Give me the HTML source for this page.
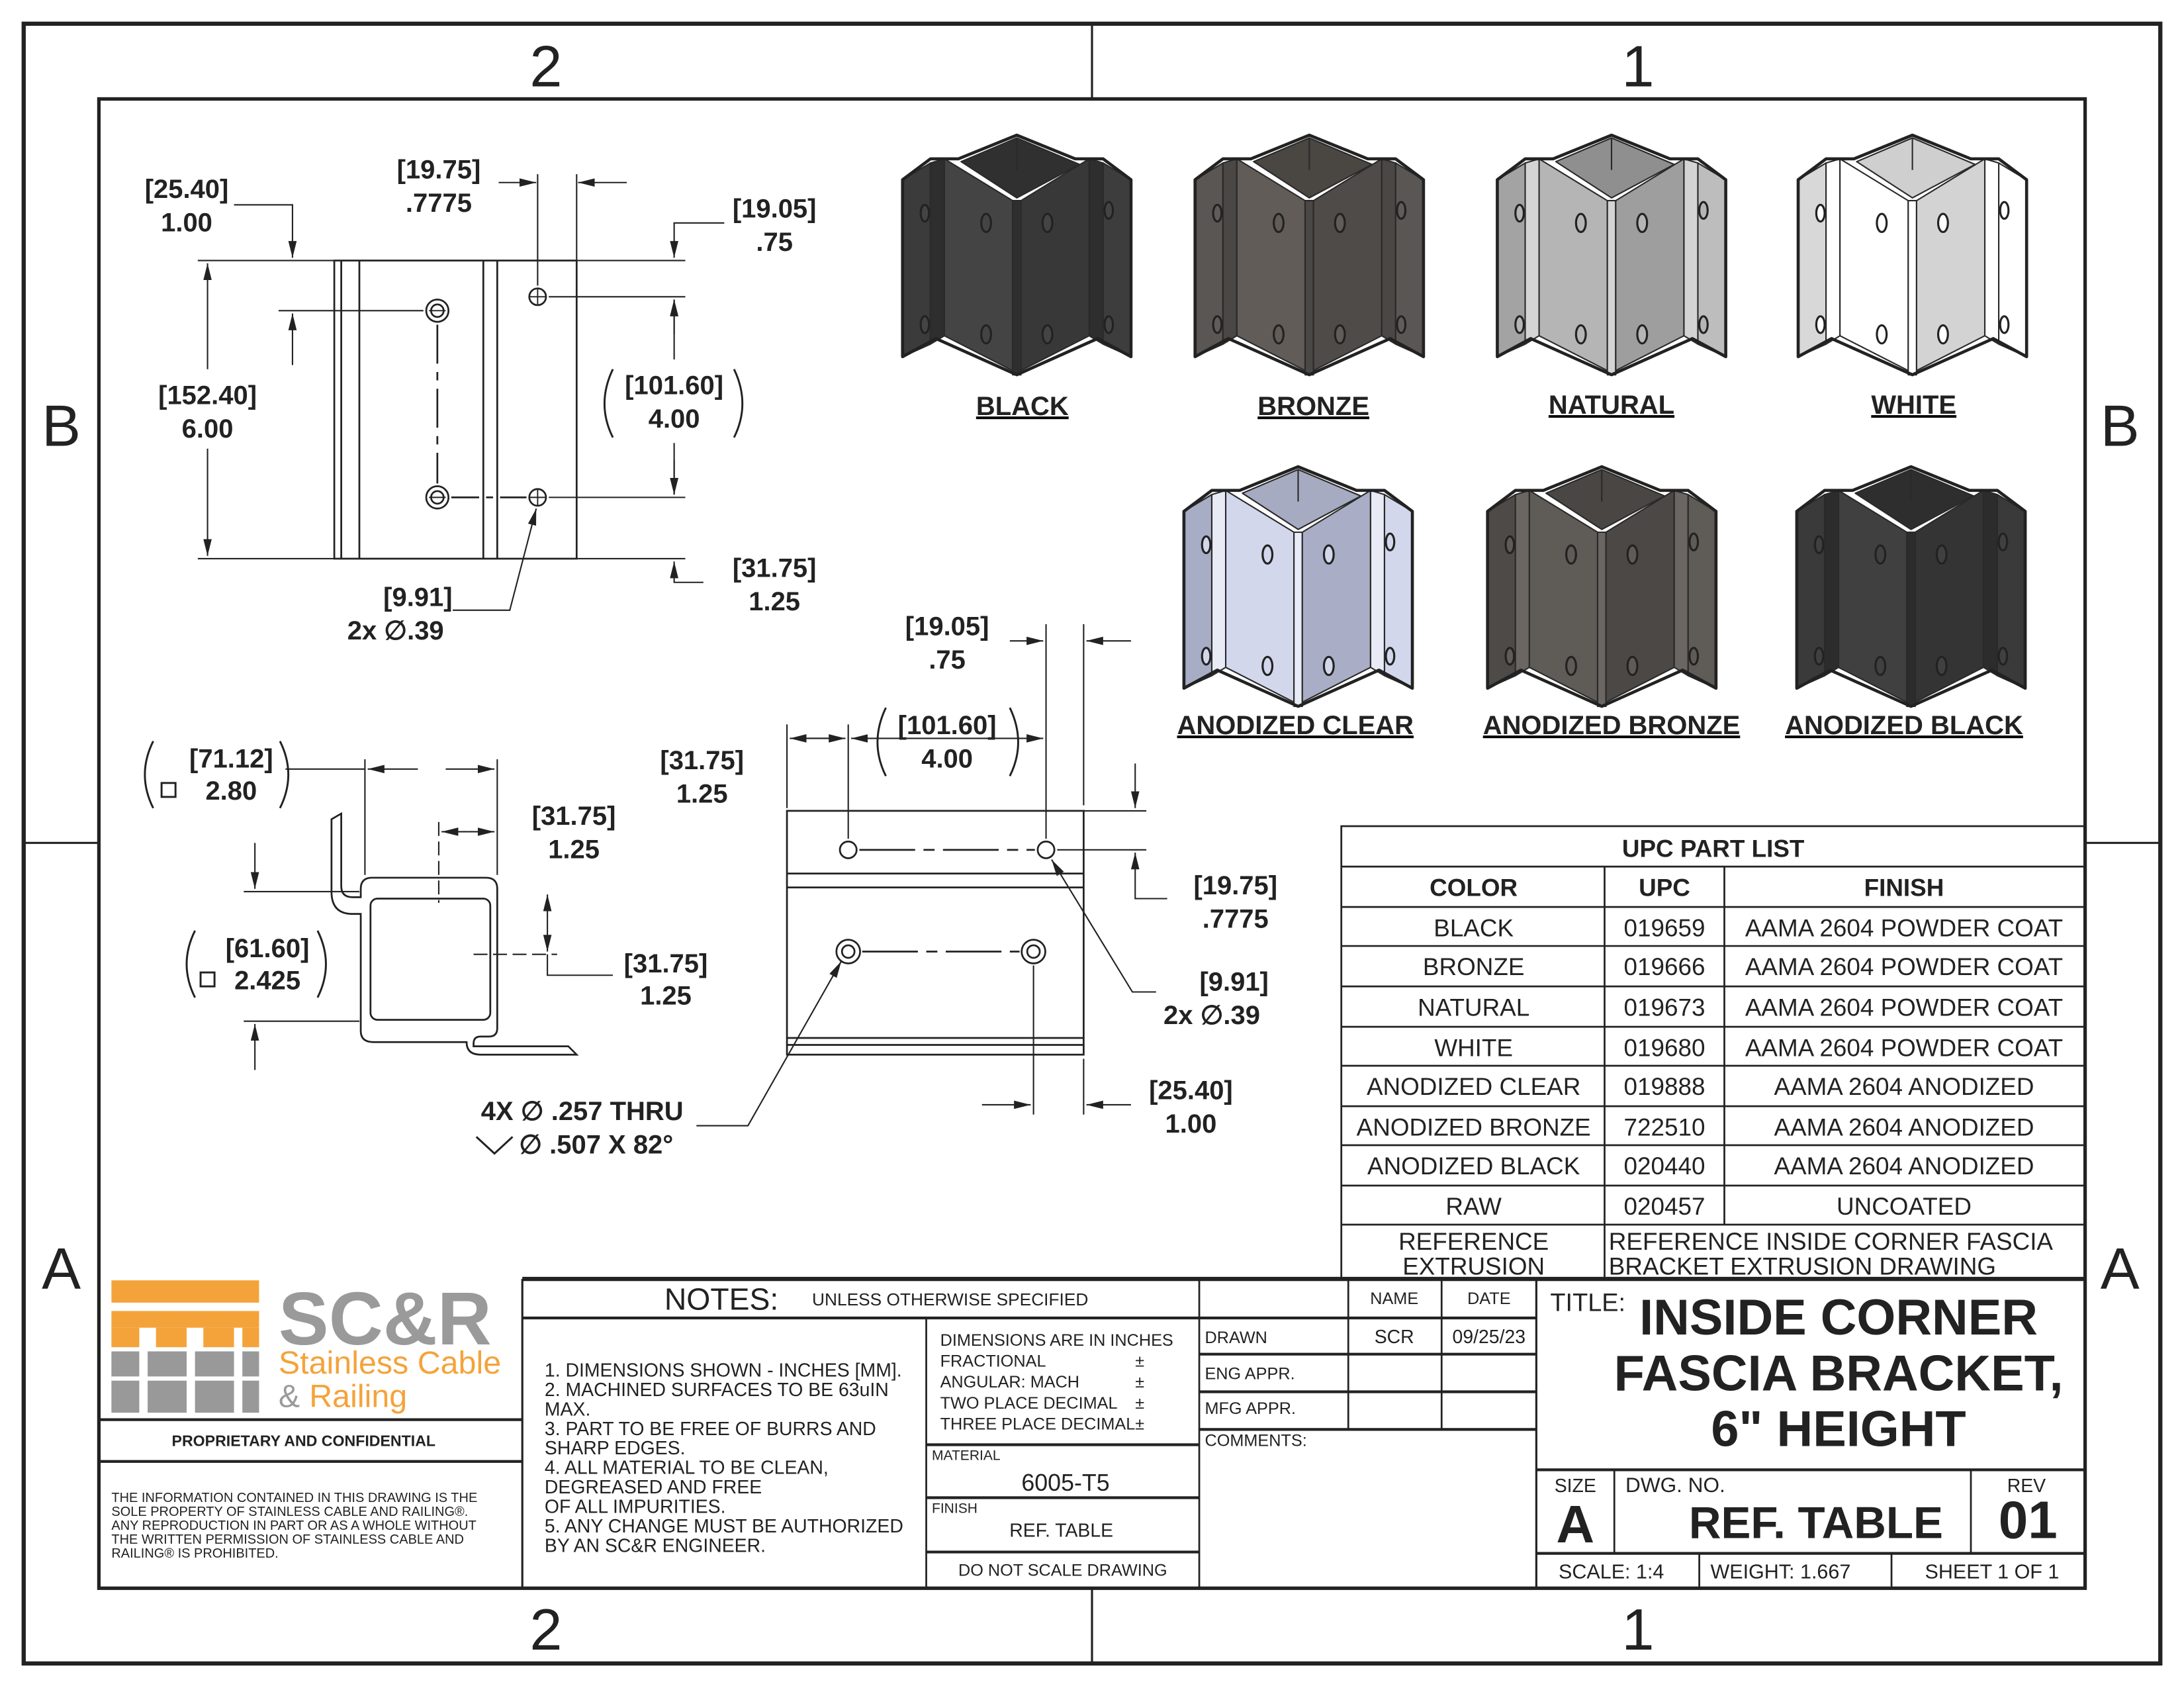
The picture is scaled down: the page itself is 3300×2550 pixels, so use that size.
<!DOCTYPE html>
<html><head><meta charset="utf-8"><style>
html,body{margin:0;padding:0;background:#fff}
svg{display:block}
text{font-family:"Liberation Sans",sans-serif;fill:#222}
</style></head><body>
<svg width="3300" height="2550" viewBox="0 0 1568 1211.6" xmlns="http://www.w3.org/2000/svg">
<defs>
<marker id="ar" viewBox="0 0 12 6" refX="12" refY="3" markerWidth="12" markerHeight="6" orient="auto" markerUnits="userSpaceOnUse"><path d="M0,0 L12,3 L0,6 Z" fill="#222"/></marker>
<g id="iso">
<g stroke="#2a2a2a" stroke-width="1" stroke-linejoin="round">
<polygon style="fill:var(--f1)" points="-82,29 -62,17 -62,147 -82,156"/>
<polygon style="fill:var(--s)" points="-62,17 -52,14 -52,141 -62,147"/>
<polygon style="fill:var(--f2)" points="-52,14 -3,44 -3,166 -52,141"/>
<polygon style="fill:var(--s)" points="-3,44 3,44 3,169 -3,169"/>
<polygon style="fill:var(--f3)" points="3,44 52,14 52,141 3,166"/>
<polygon style="fill:var(--s)" points="52,14 62,17 62,147 52,141"/>
<polygon style="fill:var(--f4)" points="62,17 82,29 82,156 62,147"/>
<polygon style="fill:var(--in)" points="-40,16 0,-1 45,18 0,42"/>
<line x1="0" y1="-1" x2="0" y2="22"/>
</g>
<g style="fill:var(--f2)" stroke="#222" stroke-width="1.5">
<ellipse cx="-66" cy="53" rx="3" ry="6"/><ellipse cx="-22" cy="60" rx="3.5" ry="6.5"/><ellipse cx="22" cy="60" rx="3.5" ry="6.5"/><ellipse cx="66" cy="51" rx="3" ry="6"/>
<ellipse cx="-66" cy="133" rx="3" ry="6"/><ellipse cx="-22" cy="140" rx="3.5" ry="6.5"/><ellipse cx="22" cy="140" rx="3.5" ry="6.5"/><ellipse cx="66" cy="133" rx="3" ry="6"/>
</g>
<path d="M-82,29 L-62,14 L-42,14 L0,-3 L42,14 L62,14 L82,29 L82,156 L58,143 L0,169 L-58,143 L-82,156 Z" fill="none" stroke="#222" stroke-width="2.2" stroke-linejoin="round"/>
</g>
</defs>

<!-- borders -->
<rect x="17" y="17" width="1534" height="1177" fill="none" stroke="#222" stroke-width="3"/>
<rect x="71" y="71" width="1426" height="1069" fill="none" stroke="#222" stroke-width="2.5"/>
<g stroke="#222" stroke-width="1.5">
<line x1="784" y1="17" x2="784" y2="71"/><line x1="784" y1="1140" x2="784" y2="1194"/>
<line x1="17" y1="605" x2="71" y2="605"/><line x1="1497" y1="605" x2="1551" y2="605"/>
</g>
<g font-size="42" text-anchor="middle">
<text x="392" y="62">2</text><text x="1176" y="62">1</text>
<text x="392" y="1184">2</text><text x="1176" y="1184">1</text>
<text x="44" y="320">B</text><text x="1522" y="320">B</text>
<text x="44" y="925">A</text><text x="1522" y="925">A</text>
</g>

<!-- iso views -->
<use href="#iso" x="730" y="100" style="--f1:#3b3b3b;--f2:#444444;--f3:#383838;--f4:#3d3d3d;--s:#2e2e2e;--in:#303030"/>
<use href="#iso" x="940" y="100" style="--f1:#5a5653;--f2:#615c58;--f3:#4f4b48;--f4:#5a5653;--s:#4a4744;--in:#4a4642"/>
<use href="#iso" x="1157" y="100" style="--f1:#a3a3a3;--f2:#b5b5b5;--f3:#9e9e9e;--f4:#bdbdbd;--s:#d4d4d4;--in:#8f8f8f"/>
<use href="#iso" x="1373" y="100" style="--f1:#d8d8d8;--f2:#ffffff;--f3:#d3d3d3;--f4:#ffffff;--s:#ffffff;--in:#cfcfcf"/>
<use href="#iso" x="932" y="338" style="--f1:#a8adc6;--f2:#d3d7ec;--f3:#a9aec6;--f4:#d3d7ec;--s:#e8eaf6;--in:#a6abc2"/>
<use href="#iso" x="1150" y="338" style="--f1:#4e4a47;--f2:#5f5b57;--f3:#4c4845;--f4:#5f5b57;--s:#6b6662;--in:#4a4643"/>
<use href="#iso" x="1372" y="338" style="--f1:#3a3a3a;--f2:#404040;--f3:#343434;--f4:#3a3a3a;--s:#2c2c2c;--in:#2e2e2e"/>
<g font-size="19" text-anchor="middle" text-decoration="underline" font-weight="bold">
<text x="734" y="298">BLACK</text><text x="943" y="298">BRONZE</text><text x="1157" y="297">NATURAL</text><text x="1374" y="297">WHITE</text>
<text x="930" y="527">ANODIZED CLEAR</text><text x="1157" y="527">ANODIZED BRONZE</text><text x="1367" y="527">ANODIZED BLACK</text>
</g>

<!-- drawings -->
<g stroke="#222" stroke-width="1.3" fill="none">
<rect x="240" y="187" width="174" height="214"/>
<line x1="245" y1="187" x2="245" y2="401"/><line x1="258" y1="187" x2="258" y2="401"/>
<line x1="347" y1="187" x2="347" y2="401"/><line x1="357" y1="187" x2="357" y2="401"/>
<circle cx="314" cy="223" r="8"/><circle cx="314" cy="223" r="4.5"/>
<circle cx="314" cy="357" r="8"/><circle cx="314" cy="357" r="4.5"/>
<circle cx="386" cy="213" r="6"/><circle cx="386" cy="357" r="6"/>
<g stroke-width="0.9"><line x1="380" y1="213" x2="392" y2="213"/><line x1="386" y1="207" x2="386" y2="219"/><line x1="380" y1="357" x2="392" y2="357"/><line x1="386" y1="351" x2="386" y2="363"/><line x1="308" y1="223" x2="320" y2="223"/><line x1="308" y1="357" x2="320" y2="357"/></g>
<line x1="314" y1="233" x2="314" y2="347" stroke-dasharray="28,6,6,6"/>
<line x1="324" y1="357" x2="378" y2="357" stroke-dasharray="20,5,5,5"/>
<g stroke-width="1">
<line x1="142" y1="187" x2="240" y2="187"/><line x1="142" y1="401" x2="240" y2="401"/>
<line x1="149" y1="265" x2="149" y2="189" marker-end="url(#ar)"/><line x1="149" y1="322" x2="149" y2="399" marker-end="url(#ar)"/>
<line x1="200" y1="223" x2="304" y2="223"/>
<polyline points="168,147 210,147 210,185" marker-end="url(#ar)"/><line x1="210" y1="262" x2="210" y2="225" marker-end="url(#ar)"/>
<line x1="386" y1="125" x2="386" y2="205"/><line x1="414" y1="125" x2="414" y2="187"/>
<line x1="358" y1="131" x2="385" y2="131" marker-end="url(#ar)"/><line x1="450" y1="131" x2="415" y2="131" marker-end="url(#ar)"/>
<line x1="414" y1="187" x2="492" y2="187"/><line x1="394" y1="213" x2="492" y2="213"/><line x1="394" y1="357" x2="492" y2="357"/><line x1="414" y1="401" x2="492" y2="401"/>
<polyline points="520,160 484,160 484,185" marker-end="url(#ar)"/><line x1="484" y1="240" x2="484" y2="215" marker-end="url(#ar)"/>
<line x1="484" y1="258" x2="484" y2="215" marker-end="url(#ar)"/><line x1="484" y1="318" x2="484" y2="355" marker-end="url(#ar)"/>
<line x1="484" y1="330" x2="484" y2="355" marker-end="url(#ar)"/><polyline points="505,418 484,418 484,403" marker-end="url(#ar)"/>
<polyline points="325,438 366,438 385,365" marker-end="url(#ar)"/>
</g>
<path d="M238,588 L245,584 L245,636 Q245,644 253,644 L259,644 L259,638 Q259,630 267,630 L349,630 Q357,630 357,638 L357,738 Q357,744 351,744 L345,744 Q340,744 340,749 L340,751 L408,751 L414,757 L345,757 Q335,757 335,748 L268,748 Q259,748 259,740 L259,656 L253,656 Q238,656 238,640 Z"/>
<rect x="266" y="645" width="86" height="87" rx="5"/>
<g stroke-width="1">
<line x1="262" y1="545" x2="262" y2="628"/><line x1="357" y1="545" x2="357" y2="628"/>
<line x1="205" y1="552" x2="262" y2="552"/><line x1="300" y1="552" x2="264" y2="552" marker-end="url(#ar)"/><line x1="320" y1="552" x2="355" y2="552" marker-end="url(#ar)"/>
<line x1="315" y1="590" x2="315" y2="648" stroke-dasharray="10,4"/>
<line x1="336" y1="597" x2="317" y2="597" marker-end="url(#ar)"/><line x1="336" y1="597" x2="355" y2="597" marker-end="url(#ar)"/>
<line x1="175" y1="640" x2="258" y2="640"/><line x1="175" y1="733" x2="258" y2="733"/>
<line x1="183" y1="605" x2="183" y2="638" marker-end="url(#ar)"/><line x1="183" y1="768" x2="183" y2="735" marker-end="url(#ar)"/>
<line x1="340" y1="685" x2="400" y2="685" stroke-dasharray="10,4"/>
<line x1="393" y1="660" x2="393" y2="642" marker-end="url(#ar)"/><line x1="393" y1="660" x2="393" y2="683" marker-end="url(#ar)"/>
<polyline points="393,685 393,700 440,700"/>
</g>
<rect x="565" y="582" width="213" height="175"/>
<line x1="565" y1="627" x2="778" y2="627"/><line x1="565" y1="637" x2="778" y2="637"/>
<line x1="565" y1="745" x2="778" y2="745"/><line x1="565" y1="750" x2="778" y2="750"/>
<circle cx="609" cy="610" r="6"/><circle cx="751" cy="610" r="6"/>
<circle cx="609" cy="683" r="8.5"/><circle cx="609" cy="683" r="4.5"/>
<circle cx="742" cy="683" r="8.5"/><circle cx="742" cy="683" r="4.5"/>
<line x1="617" y1="610" x2="743" y2="610" stroke-dasharray="40,6,8,6"/>
<line x1="619" y1="683" x2="732" y2="683" stroke-dasharray="40,6,8,6"/>
<g stroke-width="1">
<line x1="565" y1="520" x2="565" y2="580"/><line x1="609" y1="520" x2="609" y2="602"/><line x1="751" y1="448" x2="751" y2="602"/><line x1="778" y1="448" x2="778" y2="578"/>
<line x1="580" y1="530" x2="607" y2="530" marker-end="url(#ar)"/><line x1="598" y1="530" x2="567" y2="530" marker-end="url(#ar)"/>
<line x1="735" y1="530" x2="611" y2="530" marker-end="url(#ar)"/><line x1="735" y1="530" x2="749" y2="530" marker-end="url(#ar)"/>
<line x1="725" y1="460" x2="749" y2="460" marker-end="url(#ar)"/><line x1="812" y1="460" x2="780" y2="460" marker-end="url(#ar)"/>
<line x1="778" y1="582" x2="823" y2="582"/><line x1="759" y1="610" x2="823" y2="610"/>
<line x1="815" y1="548" x2="815" y2="580" marker-end="url(#ar)"/><polyline points="838,645 815,645 815,612" marker-end="url(#ar)"/>
<polyline points="830,712 813,712 755,617" marker-end="url(#ar)"/>
<line x1="742" y1="693" x2="742" y2="800"/><line x1="778" y1="760" x2="778" y2="800"/>
<line x1="705" y1="793" x2="740" y2="793" marker-end="url(#ar)"/><line x1="812" y1="793" x2="780" y2="793" marker-end="url(#ar)"/>
<polyline points="500,808 537,808 604,690" marker-end="url(#ar)"/>
</g>
</g>

<g font-size="19" font-weight="bold" text-anchor="middle">
<text x="134" y="142">[25.40]</text><text x="134" y="166">1.00</text>
<text x="315" y="128">[19.75]</text><text x="315" y="152">.7775</text>
<text x="556" y="156">[19.05]</text><text x="556" y="180">.75</text>
<text x="149" y="290">[152.40]</text><text x="149" y="314">6.00</text>
<text x="484" y="283">[101.60]</text><text x="484" y="307">4.00</text>
<text x="556" y="414">[31.75]</text><text x="556" y="438">1.25</text>
<text x="300" y="435">[9.91]</text><text x="284" y="459">2x  ∅.39</text>
<text x="166" y="551">[71.12]</text><text x="166" y="574">2.80</text>
<text x="412" y="592">[31.75]</text><text x="412" y="616">1.25</text>
<text x="192" y="687">[61.60]</text><text x="192" y="710">2.425</text>
<text x="478" y="698">[31.75]</text><text x="478" y="721">1.25</text>
<text x="418" y="804">4X ∅ .257 THRU</text><text x="428" y="828">∅ .507 X 82°</text>
<text x="680" y="456">[19.05]</text><text x="680" y="480">.75</text>
<text x="680" y="527">[101.60]</text><text x="680" y="551">4.00</text>
<text x="504" y="552">[31.75]</text><text x="504" y="576">1.25</text>
<text x="887" y="642">[19.75]</text><text x="887" y="666">.7775</text>
<text x="886" y="711">[9.91]</text><text x="870" y="735">2x  ∅.39</text>
<text x="855" y="789">[25.40]</text><text x="855" y="813">1.00</text>
</g>
<g fill="none" stroke="#222" stroke-width="1.4">
<path d="M440,265 Q428,290 440,314"/><path d="M527,265 Q539,290 527,314"/>
<path d="M110,532 Q98,556 110,580"/><path d="M201,532 Q213,556 201,580"/>
<path d="M140,668 Q128,692 140,716"/><path d="M228,668 Q240,692 228,716"/>
<path d="M636,508 Q624,533 636,557"/><path d="M725,508 Q737,533 725,557"/>
<rect x="116" y="562" width="10" height="10"/><rect x="144" y="698" width="10" height="10"/>
<polyline points="342,816 355,828 368,816"/>
</g>

<!-- UPC table -->
<g stroke="#222" stroke-width="1.3" fill="none">
<rect x="963" y="593" width="534" height="325"/>
<line x1="963" y1="622" x2="1497" y2="622"/><line x1="963" y1="651" x2="1497" y2="651"/>
<line x1="963" y1="679" x2="1497" y2="679"/><line x1="963" y1="708" x2="1497" y2="708"/>
<line x1="963" y1="737" x2="1497" y2="737"/><line x1="963" y1="765" x2="1497" y2="765"/>
<line x1="963" y1="794" x2="1497" y2="794"/><line x1="963" y1="822" x2="1497" y2="822"/>
<line x1="963" y1="851" x2="1497" y2="851"/><line x1="963" y1="879" x2="1497" y2="879"/>
<line x1="1152" y1="622" x2="1152" y2="918"/><line x1="1238" y1="622" x2="1238" y2="879"/>
</g>
<g font-size="17.5" text-anchor="middle">
<text x="1230" y="615" font-weight="bold">UPC PART LIST</text>
<text x="1058" y="643" font-weight="bold">COLOR</text><text x="1195" y="643" font-weight="bold">UPC</text><text x="1367" y="643" font-weight="bold">FINISH</text>
<text x="1058" y="672">BLACK</text><text x="1195" y="672">019659</text><text x="1367" y="672">AAMA 2604 POWDER COAT</text>
<text x="1058" y="700">BRONZE</text><text x="1195" y="700">019666</text><text x="1367" y="700">AAMA 2604 POWDER COAT</text>
<text x="1058" y="729">NATURAL</text><text x="1195" y="729">019673</text><text x="1367" y="729">AAMA 2604 POWDER COAT</text>
<text x="1058" y="758">WHITE</text><text x="1195" y="758">019680</text><text x="1367" y="758">AAMA 2604 POWDER COAT</text>
<text x="1058" y="786">ANODIZED CLEAR</text><text x="1195" y="786">019888</text><text x="1367" y="786">AAMA 2604 ANODIZED</text>
<text x="1058" y="815">ANODIZED BRONZE</text><text x="1195" y="815">722510</text><text x="1367" y="815">AAMA 2604 ANODIZED</text>
<text x="1058" y="843">ANODIZED BLACK</text><text x="1195" y="843">020440</text><text x="1367" y="843">AAMA 2604 ANODIZED</text>
<text x="1058" y="872">RAW</text><text x="1195" y="872">020457</text><text x="1367" y="872">UNCOATED</text>
<text x="1058" y="897">REFERENCE</text><text x="1058" y="915">EXTRUSION</text>
<text x="1155" y="897" text-anchor="start">REFERENCE INSIDE CORNER FASCIA</text>
<text x="1155" y="915" text-anchor="start">BRACKET EXTRUSION DRAWING</text>
</g>

<!-- title block -->
<g stroke="#222" fill="none">
<line x1="375" y1="918" x2="1497" y2="918" stroke-width="3"/>
<line x1="375" y1="918" x2="375" y2="1140" stroke-width="1.5"/>
<line x1="71" y1="1019" x2="375" y2="1019" stroke-width="2"/>
<line x1="71" y1="1049" x2="375" y2="1049" stroke-width="2"/>
<line x1="375" y1="946" x2="861" y2="946" stroke-width="2"/>
<line x1="665" y1="946" x2="665" y2="1140" stroke-width="1.3"/>
<line x1="861" y1="918" x2="861" y2="1140" stroke-width="1.3"/>
<line x1="665" y1="1037" x2="861" y2="1037" stroke-width="2"/>
<line x1="665" y1="1075" x2="861" y2="1075" stroke-width="2"/>
<line x1="665" y1="1114" x2="861" y2="1114" stroke-width="2"/>
<line x1="968" y1="918" x2="968" y2="1026" stroke-width="1.3"/>
<line x1="1035" y1="918" x2="1035" y2="1026" stroke-width="1.3"/>
<line x1="861" y1="946" x2="1103" y2="946" stroke-width="2"/>
<line x1="861" y1="972" x2="1103" y2="972" stroke-width="2"/>
<line x1="861" y1="999" x2="1103" y2="999" stroke-width="2"/>
<line x1="861" y1="1026" x2="1103" y2="1026" stroke-width="2"/>
<line x1="1103" y1="918" x2="1103" y2="1140" stroke-width="1.5"/>
<line x1="1103" y1="1055" x2="1497" y2="1055" stroke-width="2"/>
<line x1="1103" y1="1115" x2="1497" y2="1115" stroke-width="2"/>
<line x1="1159" y1="1055" x2="1159" y2="1115" stroke-width="1.3"/>
<line x1="1415" y1="1055" x2="1415" y2="1115" stroke-width="1.3"/>
<line x1="1220" y1="1115" x2="1220" y2="1140" stroke-width="1.3"/>
<line x1="1358" y1="1115" x2="1358" y2="1140" stroke-width="1.3"/>
</g>
<g>
<rect x="80" y="919" width="106" height="16" fill="#f4a33a"/>
<rect x="80" y="941" width="106" height="12" fill="#f4a33a"/>
<rect x="80" y="953" width="20" height="14" fill="#f4a33a"/><rect x="112" y="953" width="22" height="14" fill="#f4a33a"/><rect x="146" y="953" width="22" height="14" fill="#f4a33a"/><rect x="174" y="953" width="12" height="14" fill="#f4a33a"/>
<rect x="80" y="970" width="20" height="44" fill="#999"/><rect x="106" y="970" width="28" height="44" fill="#999"/><rect x="140" y="970" width="28" height="44" fill="#999"/><rect x="174" y="970" width="12" height="44" fill="#999"/>
<rect x="80" y="988" width="106" height="3" fill="#fff"/>
<text x="200" y="965" font-size="54" font-weight="bold" style="fill:#9a9a9a">SC&amp;R</text>
<text x="200" y="986" font-size="23" style="fill:#f4a33a">Stainless Cable</text>
<text x="200" y="1010" font-size="23" style="fill:#9a9a9a">&amp;</text><text x="222" y="1010" font-size="23" style="fill:#f4a33a">Railing</text>
</g>
<g font-size="11">
<text x="218" y="1038" text-anchor="middle" font-weight="bold">PROPRIETARY AND CONFIDENTIAL</text>
<g font-size="9.5"><text x="80" y="1078">THE INFORMATION CONTAINED IN THIS DRAWING IS THE</text><text x="80" y="1088">SOLE PROPERTY OF STAINLESS CABLE AND RAILING®.</text><text x="80" y="1098">ANY REPRODUCTION IN PART OR AS A WHOLE WITHOUT</text><text x="80" y="1108">THE WRITTEN PERMISSION OF STAINLESS CABLE AND</text><text x="80" y="1118">RAILING® IS PROHIBITED.</text></g>
<text x="477" y="940" font-size="22">NOTES:</text>
<text x="583" y="937" font-size="12.5">UNLESS OTHERWISE SPECIFIED</text>
<g font-size="13.5"><text x="391" y="988">1. DIMENSIONS SHOWN - INCHES [MM].</text><text x="391" y="1002">2. MACHINED SURFACES TO BE 63uIN</text><text x="391" y="1016">MAX.</text><text x="391" y="1030">3. PART TO BE FREE OF BURRS AND</text><text x="391" y="1044">SHARP EDGES.</text><text x="391" y="1058">4. ALL MATERIAL TO BE CLEAN,</text><text x="391" y="1072">DEGREASED AND FREE</text><text x="391" y="1086">OF ALL IMPURITIES.</text><text x="391" y="1100">5. ANY CHANGE MUST BE AUTHORIZED</text><text x="391" y="1114">BY AN SC&amp;R ENGINEER.</text></g>
<g font-size="12"><text x="675" y="966">DIMENSIONS ARE IN INCHES</text><text x="675" y="981">FRACTIONAL</text><text x="675" y="996">ANGULAR: MACH</text><text x="675" y="1011">TWO PLACE DECIMAL</text><text x="675" y="1026">THREE PLACE DECIMAL</text>
<text x="815" y="981">±</text><text x="815" y="996">±</text><text x="815" y="1011">±</text><text x="815" y="1026">±</text></g>
<text x="669" y="1048" font-size="10">MATERIAL</text>
<text x="765" y="1070" font-size="17" text-anchor="middle">6005-T5</text>
<text x="669" y="1086" font-size="10">FINISH</text>
<text x="762" y="1103" font-size="13.5" text-anchor="middle">REF. TABLE</text>
<text x="763" y="1131" font-size="12" text-anchor="middle">DO NOT SCALE DRAWING</text>
<g font-size="12"><text x="865" y="964">DRAWN</text><text x="865" y="990">ENG APPR.</text><text x="865" y="1015">MFG APPR.</text><text x="865" y="1038">COMMENTS:</text>
<text x="1001" y="936" text-anchor="middle">NAME</text><text x="1069" y="936" text-anchor="middle">DATE</text>
<text x="1001" y="964" text-anchor="middle" font-size="13.5">SCR</text><text x="1069" y="964" text-anchor="middle" font-size="13.5">09/25/23</text></g>
<text x="1113" y="941" font-size="18">TITLE:</text>
<g font-size="36" font-weight="bold" text-anchor="middle">
<text x="1320" y="958">INSIDE CORNER</text><text x="1320" y="998">FASCIA BRACKET,</text><text x="1320" y="1038">6" HEIGHT</text>
</g>
<text x="1116" y="1071" font-size="13.5">SIZE</text><text x="1167" y="1071" font-size="15">DWG.  NO.</text><text x="1441" y="1071" font-size="13.5">REV</text>
<text x="1131" y="1107" font-size="38" font-weight="bold" text-anchor="middle">A</text>
<text x="1395" y="1104" font-size="32" font-weight="bold" text-anchor="end">REF. TABLE</text>
<text x="1456" y="1104" font-size="38" font-weight="bold" text-anchor="middle">01</text>
<text x="1119" y="1133" font-size="14.5">SCALE: 1:4</text><text x="1228" y="1133" font-size="14.5">WEIGHT: 1.667</text><text x="1382" y="1133" font-size="14.5">SHEET 1 OF 1</text>
</g>
</svg>
</body></html>
